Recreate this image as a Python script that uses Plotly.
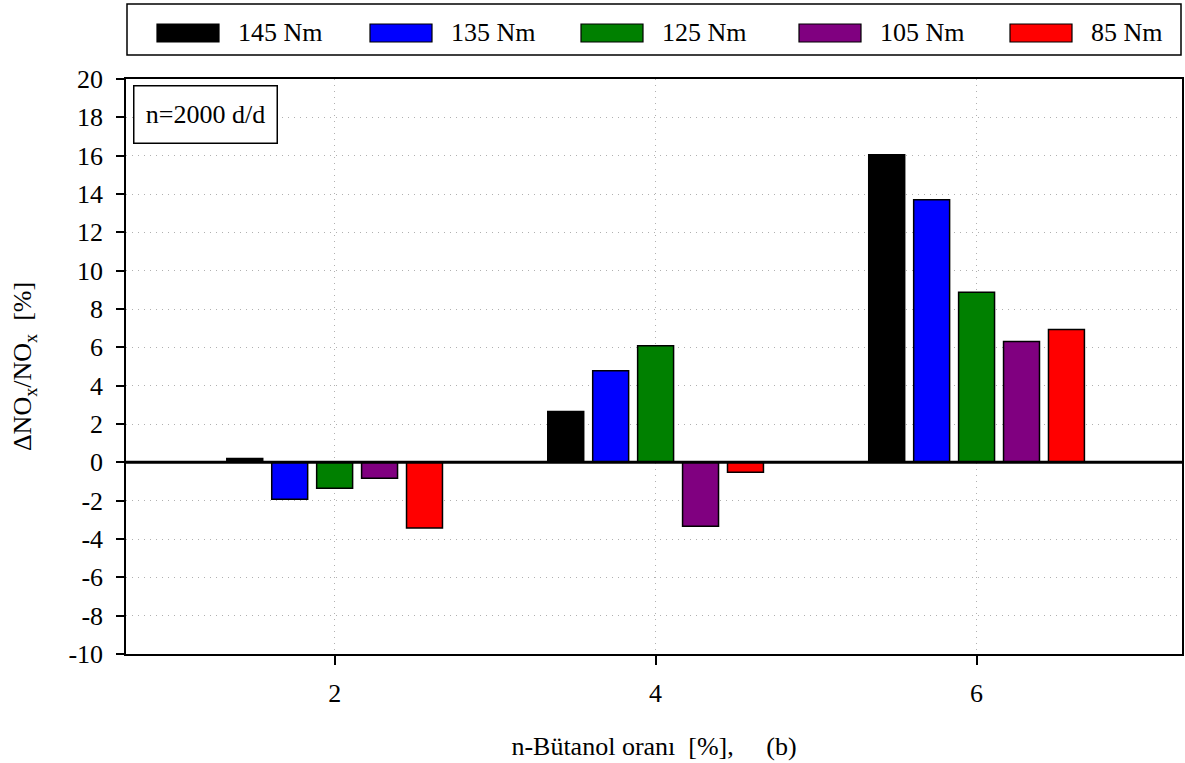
import plotly.graph_objects as go

# ---- data ----
butanol_ratio = [2, 4, 6]
series_names = ["145 Nm", "135 Nm", "125 Nm", "105 Nm", "85 Nm"]
series_colors = ["#000000", "#0000ff", "#008000", "#800080", "#ff0000"]
v145 = [0.2, 2.65, 16.05]
v135 = [-1.92, 4.78, 13.7]
v125 = [-1.35, 6.08, 8.87]
v105 = [-0.83, -3.33, 6.3]
v85 = [-3.43, -0.52, 6.93]
series_values = [v145, v135, v125, v105, v85]
y_ticks = list(range(-10, 21, 2))

FONT = "Liberation Serif, Times New Roman, serif"
FS = 26
W, H = 1185, 763
L, R, T, B = 126, 3, 79, 109
pw = W - L - R
ph = H - T - B

def px2paper_x(px):
    return (px - L) / pw

def px2paper_y(py):
    return (H - B - py) / ph

fig = go.Figure()
for name, color, vals in zip(series_names, series_colors, series_values):
    fig.add_trace(go.Bar(
        x=butanol_ratio, y=vals, name=name,
        marker=dict(color=color, line=dict(color="#000000", width=1.5)),
        showlegend=False,
    ))

fig.update_layout(
    width=W, height=H,
    margin=dict(l=L, r=R, t=T, b=B, autoexpand=False),
    barmode="group", bargap=0.3, bargroupgap=0.2,
    plot_bgcolor="white", paper_bgcolor="white",
    font=dict(family=FONT, size=FS, color="black"),
)

fig.update_xaxes(
    range=[0.7, 7.28], tickvals=butanol_ratio, ticktext=[str(v) for v in butanol_ratio],
    showgrid=True, gridcolor="#b0b0b0", griddash="1px,5px", gridwidth=1,
    showline=True, linecolor="black", linewidth=1.5, mirror=True,
    ticks="outside", ticklen=9, tickcolor="black", tickwidth=1.5,
    tickfont=dict(family=FONT, size=FS), ticklabelstandoff=6,
    zeroline=False,
    title=dict(text="n-Bütanol oranı\u00a0\u00a0[%],\u00a0\u00a0\u00a0\u00a0\u00a0(b)",
               font=dict(family=FONT, size=FS), standoff=30),
)
fig.update_yaxes(
    range=[-10, 20], tickvals=y_ticks, ticktext=[str(v) for v in y_ticks],
    showgrid=True, gridcolor="#b0b0b0", griddash="1px,5px", gridwidth=1,
    showline=True, linecolor="black", linewidth=1.5, mirror=True,
    ticks="outside", ticklen=8, tickcolor="black", tickwidth=1.5,
    tickfont=dict(family=FONT, size=FS), ticklabelstandoff=8,
    zeroline=False,
    title=dict(text="ΔNO<sub>x</sub>/NO<sub>x</sub>\u00a0\u00a0[%]",
               font=dict(family=FONT, size=FS), standoff=29),
)

# zero line drawn above bars
fig.add_shape(type="line", xref="paper", yref="y", x0=0, x1=1, y0=0, y1=0,
              line=dict(color="black", width=3), layer="above")

# annotation box
fig.add_annotation(
    xref="paper", yref="paper", x=px2paper_x(133), y=px2paper_y(85),
    xanchor="left", yanchor="top", text="n=2000 d/d", showarrow=False,
    font=dict(family=FONT, size=FS), bordercolor="black", borderwidth=1.5,
    bgcolor="white", width=140, height=54, align="center", valign="middle",
)

# custom legend box
fig.add_shape(type="rect", xref="paper", yref="paper",
              x0=px2paper_x(127), x1=px2paper_x(1181),
              y0=px2paper_y(55), y1=px2paper_y(4),
              line=dict(color="black", width=1.5), fillcolor="white", layer="above")
legend_x = [157, 370, 581, 799, 1010]
for lx, name, color in zip(legend_x, series_names, series_colors):
    fig.add_shape(type="rect", xref="paper", yref="paper",
                  x0=px2paper_x(lx), x1=px2paper_x(lx + 62),
                  y0=px2paper_y(42), y1=px2paper_y(24),
                  line=dict(color="black", width=1.2), fillcolor=color, layer="above")
    fig.add_annotation(xref="paper", yref="paper", x=px2paper_x(lx + 79), y=px2paper_y(33),
                       xanchor="left", yanchor="middle", text=name, showarrow=False,
                       font=dict(family=FONT, size=FS))

fig.write_html("out.html", config={"displayModeBar": False},
               post_script="document.body.style.margin='0';")
